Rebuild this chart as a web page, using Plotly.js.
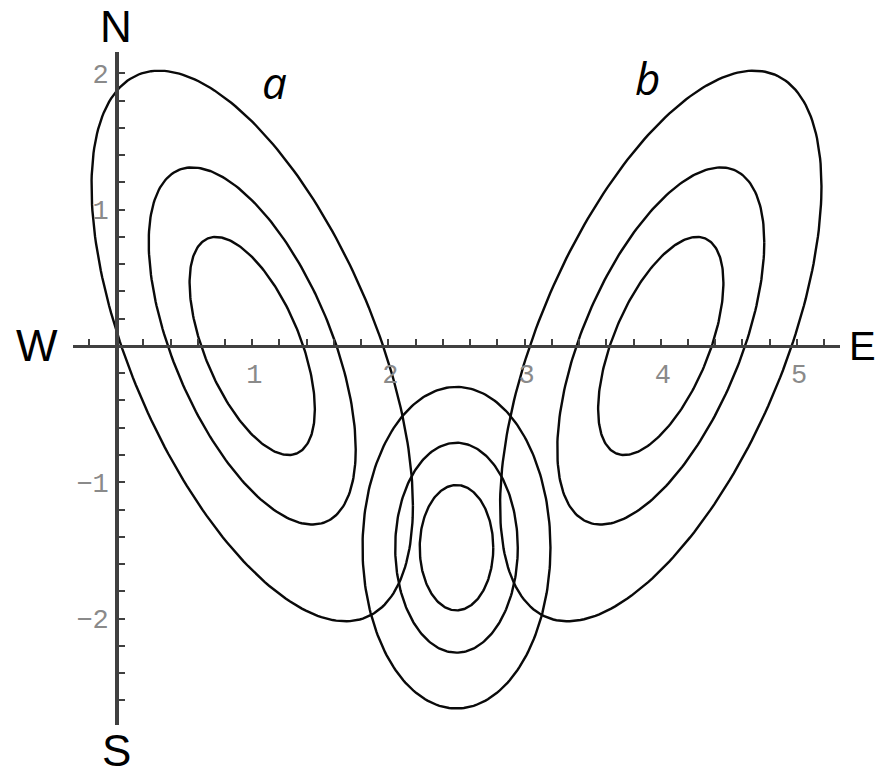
<!DOCTYPE html>
<html>
<head>
<meta charset="utf-8">
<script src="https://cdn.plot.ly/plotly-3.0.1.min.js"></script>
<style>
  html, body { margin: 0; padding: 0; background: #fff; }
  #chart { width: 875px; height: 776px; }
</style>
</head>
<body>
<div id="chart"></div>
<script>
// Three families of nested elliptical contours (a, b and the lower middle one).
const groupNames   = ['a', 'b', 'c'];
const centerX      = [1.0, 4.0, 2.5];
const centerY      = [0.0, 0.0, -1.48];
const correlation  = [-0.58, 0.58, 0.0];
const halfWidths   = [[1.18, 0.76, 0.46], [1.18, 0.76, 0.46], [0.69, 0.45, 0.27]];
const halfHeights  = [[2.02, 1.31, 0.80], [2.02, 1.31, 0.80], [1.18, 0.77, 0.46]];

// Axis ticks and labels
const xTickValues = [1, 2, 3, 4, 5];
const xTickLabels = ['1', '2', '3', '4', '5'];
const yTickValues = [-2, -1, 1, 2];
const yTickLabels = ['\u22122', '\u22121', '1', '2'];
const minorStep = 0.2;

// Axis extents (data units)
const xRange = [-0.316, 5.316];
const yRange = [-2.781, 2.157];

const W = 875, H = 776;
const xDomain = [73 / W, 840 / W];
const yDomain = [1 - 725 / H, 1 - 52 / H];

// Outline of one contour: tilted ellipse from its x/y half extents and correlation
function contour(cx, cy, sx, sy, r) {
  const xs = [], ys = [];
  const n = 240, s = Math.sqrt(1 - r * r);
  for (let i = 0; i <= n; i++) {
    const t = 2 * Math.PI * i / n;
    xs.push(cx + sx * Math.cos(t));
    ys.push(cy + sy * (r * Math.cos(t) + s * Math.sin(t)));
  }
  return { xs, ys };
}

const traces = [];
groupNames.forEach((g, gi) => {
  halfWidths[gi].forEach((sx, k) => {
    const c = contour(centerX[gi], centerY[gi], sx, halfHeights[gi][k], correlation[gi]);
    traces.push({
      type: 'scatter', mode: 'lines', x: c.xs, y: c.ys,
      name: g + (k + 1), hoverinfo: 'skip',
      line: { color: '#0a0a0a', width: 2.4 }
    });
  });
});

// paper position of the zero line of each axis
const xZeroPaper = xDomain[0] + (0 - xRange[0]) / (xRange[1] - xRange[0]) * (xDomain[1] - xDomain[0]);
const yZeroPaper = yDomain[0] + (0 - yRange[0]) / (yRange[1] - yRange[0]) * (yDomain[1] - yDomain[0]);

const axisColor = '#404040';
const tickFont = { family: 'Liberation Mono, Courier New, monospace', size: 27, color: '#8a8a8a' };
const px = v => v / W, py = v => 1 - v / H;
const bigFont = { family: 'Liberation Sans, Arial, sans-serif', size: 44, color: '#000' };
const eFont = { family: 'Liberation Sans, Arial, sans-serif', size: 40, color: '#000' };
const letterFont = { family: 'Open Sans, sans-serif', size: 44, color: '#000' };

const layout = {
  width: W, height: H,
  margin: { l: 0, r: 0, t: 0, b: 0 },
  paper_bgcolor: '#fff', plot_bgcolor: 'rgba(0,0,0,0)',
  showlegend: false,
  xaxis: {
    domain: xDomain, range: xRange, anchor: 'free', position: yZeroPaper,
    showgrid: false, zeroline: false,
    showline: true, linecolor: axisColor, linewidth: 3.5,
    tickmode: 'array', tickvals: xTickValues, ticktext: xTickLabels,
    ticks: 'inside', ticklen: 6, tickwidth: 2, tickcolor: axisColor,
    tickfont: tickFont, ticklabelstandoff: 2, ticklabelshift: 2,
    minor: { dtick: minorStep, tick0: 0, ticks: 'inside', ticklen: 6, tickwidth: 2, tickcolor: axisColor, showgrid: false }
  },
  yaxis: {
    domain: yDomain, range: yRange, anchor: 'free', position: xZeroPaper,
    showgrid: false, zeroline: false,
    showline: true, linecolor: axisColor, linewidth: 3.5,
    tickmode: 'array', tickvals: yTickValues, ticktext: yTickLabels,
    ticks: 'inside', ticklen: 6, tickwidth: 2, tickcolor: axisColor,
    tickfont: tickFont, ticklabelstandoff: 1,
    minor: { dtick: minorStep, tick0: 0, ticks: 'inside', ticklen: 6, tickwidth: 2, tickcolor: axisColor, showgrid: false }
  },
  annotations: [
    { text: 'N', x: xZeroPaper, y: py(27), xref: 'paper', yref: 'paper', showarrow: false, font: bigFont, xanchor: 'center', yanchor: 'middle' },
    { text: 'S', x: xZeroPaper, y: py(750), xref: 'paper', yref: 'paper', showarrow: false, font: bigFont, xanchor: 'center', yanchor: 'middle' },
    { text: 'W', x: px(37), y: yZeroPaper, xref: 'paper', yref: 'paper', showarrow: false, font: bigFont, xanchor: 'center', yanchor: 'middle' },
    { text: 'E', x: px(847), y: yZeroPaper, xref: 'paper', yref: 'paper', showarrow: false, font: eFont, xanchor: 'left', yanchor: 'middle' },
    { text: '<i>a</i>', x: px(274), y: py(82), xref: 'paper', yref: 'paper', showarrow: false, font: letterFont, xanchor: 'center', yanchor: 'middle' },
    { text: '<i>b</i>', x: px(647), y: py(78), xref: 'paper', yref: 'paper', showarrow: false, font: letterFont, xanchor: 'center', yanchor: 'middle' }
  ]
};

Plotly.newPlot('chart', traces, layout, { staticPlot: true, displayModeBar: false });
</script>
</body>
</html>
